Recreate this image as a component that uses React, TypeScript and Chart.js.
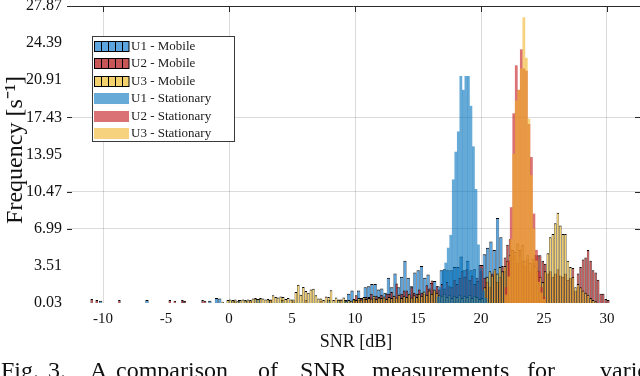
import { useEffect, useRef } from "react";
import { Chart, registerables } from "chart.js";

Chart.register(...registerables);

const FONT = "'Liberation Serif', 'Times New Roman', serif";
const X_MIN = -12.86;
const X_MAX = 32.62;
const Y_MIN = 0.03;
const Y_MAX = 27.87;
const xTicks = [-10, -5, 0, 5, 10, 15, 20, 25, 30];
const xGridValues = [-10, 0, 10, 20, 30];
const yTicks = [0.03, 3.51, 6.99, 10.47, 13.95, 17.43, 20.91, 24.39, 27.87];
const yGridValues = [6.99, 10.47, 17.43];

const seriesLabels = [
  "U1 - Mobile",
  "U2 - Mobile",
  "U3 - Mobile",
  "U1 - Stationary",
  "U2 - Stationary",
  "U3 - Stationary",
];

// ---- U1 mobile histogram (bin width 0.2625 dB) ----
const u1MobileBin = 0.2625;
const u1MobileLowX = [-10.3, -6.4, -3.5, -1.4, -1.1, -0.8, 0.3, 0.9, 1.4, 2.1, 2.5, 3.1, 4.3, 7.9, 8.7, 9.2];
const u1MobileLowY = [0.25, 0.3, 0.2, 0.25, 0.5, 0.45, 0.25, 0.3, 0.25, 0.4, 0.4, 0.3, 0.3, 0.3, 0.3, 0.3];
const u1MobileStart = 9.5;
const u1MobileValues = [
  0.9, 1.2, 0.3, 1.2, 0.5, 1.5, 1.6, 1.8, 1.8, 1.3,
  1.4, 1.0, 2.4, 1.5, 2.8, 1.5, 2.5, 4.0, 2.4, 1.6,
  2.9, 3.1, 3.5, 2.4, 2.7, 1.9, 2.1, 1.6, 3.1, 3.2,
  3.1, 3.1, 3.4, 3.4, 4.4, 3.1, 4.0, 3.1, 3.2, 2.1,
  3.0, 4.6, 5.2, 5.8, 5.0, 8.0, 6.2, 3.0, 0.8,
];

// ---- U2 / U3 mobile histograms (bin width 0.2 dB) ----
const mobileBin = 0.2;
const u2MobileLowX = [-10.9, -10.5, -8.7, -4.7, -4.3, -3.7, -3.5, -2.1, -1.9, 0.5, 1.7, 3.3, 5.1, 6.1, 7.3, 8.9];
const u2MobileLowY = [0.4, 0.3, 0.3, 0.3, 0.25, 0.3, 0.25, 0.3, 0.25, 0.2, 0.25, 0.3, 0.2, 0.3, 0.25, 0.3];
const u2MobileStart = 9.9;
const u2MobileValues = [
  0.3, 0.75, 0.3, 0.5, 0.4,
  0.6, 0.6, 0.9, 0.5, 0.7,
  0.6, 0.8, 0.5, 0.9, 0.9,
  1.06, 0.7, 1.85, 0.8, 0.9,
  1.2, 1.2, 0.8, 1.5, 1.0,
  0.9, 1.3, 1.0, 0.9, 1.7,
  1.4, 2.15, 1.2, 1.6, 1.3,
  1.8, 1.4, 2.0, 1.6, 1.5,
  2.2, 1.8, 2.4, 3.0, 2.5,
  3.2, 2.2, 2.6, 1.8, 2.4,
  3.6, 3.6, 2.4, 2.0, 1.5,
  2.8, 3.0, 2.0, 2.5, 3.5,
  4.3, 5.5, 6.0, 5.0, 4.5,
  3.8, 5.0, 4.0, 3.5, 4.2,
  3.0, 3.8, 4.5, 4.5, 4.5,
  4.0, 3.7, 2.8, 3.0, 2.5,
  2.8, 3.2, 2.6, 2.5, 2.8,
  2.2, 2.4, 3.3, 1.2, 2.8,
  3.4, 4.1, 4.3, 5.0, 4.0,
  3.1, 2.9, 2.2, 0.9, 0.9,
  0.4, 0.3,
];

const u3MobileLowX: number[] = [];
const u3MobileLowY: number[] = [];
const u3MobileStart = -0.9;
const u3MobileValues = [
  0, 0, 0.15, 0, 0.3,
  0.35, 0.3, 0.35, 0.2, 0.3,
  0.35, 0.3, 0.35, 0.3, 0.45,
  0.5, 0.4, 0.5, 0.45, 0.35,
  0.4, 0.35, 0.75, 0.6, 0.55,
  0.65, 0.6, 0.4, 0.5, 0.35,
  0.35, 1.06, 1.75, 0.8, 1.53,
  1.15, 1.0, 1.3, 1.36, 0.75,
  0.45, 0.45, 0.3, 0.65, 0.6,
  1.22, 0.3, 0.55, 0.35, 0.35,
  0.55, 0.2, 0.3, 0.25, 0.4,
  0.3, 0.5, 0.35, 0.6, 0.4,
  0.5, 0.45, 0.7, 0.4, 0.55,
  0.5, 0.65, 0.4, 0.6, 0.5,
  0.7, 0.55, 0.8, 0.5, 0.7,
  0.6, 0.9, 0.55, 0.75, 0.6,
  0.9, 0.7, 1.1, 0.8, 1.2,
  0.9, 1.3, 1.0, 0.8, 0.7,
  0.9, 0.6, 0.8, 0.5, 0.7,
  0.6, 0.8, 0.5, 0.7, 0.6,
  0.8, 0.5, 0.7, 0.6, 0.4,
  0.5, 1.5, 2.5, 3.0, 2.6,
  3.2, 2.8, 3.4, 3.0, 3.5,
  4.0, 4.5, 5.0, 4.8, 5.6,
  4.5, 5.5, 4.0, 4.5, 3.8,
  4.2, 3.5, 3.0, 2.5, 2.0,
  3.0, 4.7, 6.2, 6.5, 7.5,
  8.5, 7.3, 6.5, 6.5, 4.0,
  3.4, 2.5, 1.5, 1.8, 1.5,
  1.2, 1.0, 0.8, 0.5, 0.3,
  0.2,
];

// ---- Stationary histograms (bin width 0.2 dB) ----
const statBin = 0.2;
const u1StatStart = 16.4;
const u1StatValues = [0, 0.6, 1.5, 3.1, 3.8, 5.2, 6.4, 11.6, 14.2, 16.1, 21.3, 20.0, 21.3, 21.3, 18.5, 14.7, 10.7, 5.5, 3.3, 1.2, 0.5, 0];
const u2StatStart = 21.8;
const u2StatValues = [0, 1.5, 4.0, 9.0, 17.8, 22.3, 20.0, 23.8, 22.0, 21.8, 16.8, 13.7, 8.4, 5.0, 3.0, 1.5, 0.6, 0];
const u3StatStart = 21.8;
const u3StatValues = [0, 0.8, 2.5, 6.0, 14.0, 19.0, 20.0, 22.0, 26.8, 23.0, 17.3, 12.0, 7.0, 4.0, 2.0, 1.0, 0.4, 0];

const mobileColors = ["rgba(30,130,210,0.72)", "rgba(180,30,30,0.75)", "rgba(240,190,50,0.7)"];
const stationaryColors = ["rgba(0,114,189,0.6)", "rgba(200,45,50,0.68)", "rgba(240,180,40,0.6)"];

const r4 = (v: number) => Math.round(v * 10000) / 10000;

function binned(lowX: number[], lowY: number[], start: number, bin: number, values: number[]) {
  const snap = (x: number) => r4(start + Math.round((x - start) / bin) * bin);
  const pts = lowX.map((x, i) => ({ x: snap(x), y: lowY[i] }));
  values.forEach((y, i) => pts.push({ x: r4(start + i * bin), y }));
  return pts.filter((p) => p.y > 0);
}

const near = (v: number, arr: number[]) => arr.some((g) => Math.abs(g - v) < 1e-6);

const decorPlugin = {
  id: "decor",
  afterDraw(chart: any) {
    const { ctx, chartArea: a } = chart;
    const xs = chart.scales.x;
    const ys = chart.scales.y;
    ctx.save();
    ctx.strokeStyle = "#2a2a2a";
    ctx.lineWidth = 1;
    ctx.beginPath();
    ctx.moveTo(a.left, a.top + 0.5);
    ctx.lineTo(a.right, a.top + 0.5);
    for (const v of yGridValues) {
      const py = Math.round(ys.getPixelForValue(v)) + 0.5;
      ctx.moveTo(a.left, py);
      ctx.lineTo(a.left + 5, py);
      ctx.moveTo(a.right - 5, py);
      ctx.lineTo(a.right, py);
    }
    for (const v of xGridValues) {
      const px = Math.round(xs.getPixelForValue(v)) + 0.5;
      ctx.moveTo(px, a.top);
      ctx.lineTo(px, a.top + 6);
    }
    ctx.stroke();

    // legend
    const bx = a.left + 25.5;
    const by = a.top + 30.5;
    const bw = 142;
    const bh = 105;
    ctx.fillStyle = "#ffffff";
    ctx.fillRect(bx, by, bw, bh);
    ctx.strokeStyle = "#3a3a3a";
    ctx.lineWidth = 1;
    ctx.strokeRect(bx, by, bw, bh);
    ctx.font = `13px ${FONT}`;
    ctx.textBaseline = "middle";
    ctx.textAlign = "left";
    chart.data.datasets.forEach((ds: any, i: number) => {
      const cy = by + 9.5 + i * 17.5;
      const sx = bx + 1.5;
      const sw = 35;
      const sh = 11;
      const sy = Math.round(cy - sh / 2);
      ctx.fillStyle = ds.backgroundColor;
      ctx.fillRect(sx, sy, sw, sh);
      if (ds.borderWidth && ds.borderWidth.top) {
        ctx.strokeStyle = "#000";
        ctx.lineWidth = 1;
        ctx.beginPath();
        ctx.moveTo(sx, sy + 0.5);
        ctx.lineTo(sx + sw, sy + 0.5);
        ctx.moveTo(sx, sy + sh - 0.5);
        ctx.lineTo(sx + sw, sy + sh - 0.5);
        for (let k = 0; k <= 5; k++) {
          const lx = Math.min(sx + k * 7, sx + sw - 0.5);
          ctx.moveTo(lx + 0.5, sy);
          ctx.lineTo(lx + 0.5, sy + sh);
        }
        ctx.stroke();
      }
      ctx.fillStyle = "#1a1a1a";
      ctx.fillText(ds.label, sx + sw + 2, cy + 0.5);
    });

    // axis titles
    ctx.fillStyle = "#111";
    ctx.font = `18px ${FONT}`;
    ctx.textAlign = "center";
    ctx.textBaseline = "alphabetic";
    ctx.fillText("SNR [dB]", 356, 347);

    ctx.save();
    ctx.translate(22, 150);
    ctx.rotate(-Math.PI / 2);
    ctx.font = `24px ${FONT}`;
    ctx.fillText("Frequency [s\u207B\u00B9]", 0, 0);
    ctx.restore();

    // caption (cut off by the image edge)
    const words = ["Fig.", "3.", "A", "comparison", "of", "SNR", "measurements", "for", "various"];
    const wx = [1, 48, 90, 116, 258, 300, 372, 527, 600];
    ctx.font = `24px ${FONT}`;
    ctx.textAlign = "left";
    words.forEach((w, i) => ctx.fillText(w, wx[i], 378));
    ctx.restore();
  },
};

const hiddenX = {
  type: "linear",
  axis: "x",
  position: "bottom",
  min: X_MIN,
  max: X_MAX,
  offset: false,
  display: false,
  grid: { display: false, offset: false },
};

export default function App() {
  const ref = useRef<HTMLCanvasElement>(null);
  useEffect(() => {
    const canvas = ref.current;
    if (!canvas) return;
    const mobile = [
      binned(u1MobileLowX, u1MobileLowY, u1MobileStart, u1MobileBin, u1MobileValues),
      binned(u2MobileLowX, u2MobileLowY, u2MobileStart, mobileBin, u2MobileValues),
      binned(u3MobileLowX, u3MobileLowY, u3MobileStart, mobileBin, u3MobileValues),
    ];
    const stat = [
      binned([], [], u1StatStart, statBin, u1StatValues),
      binned([], [], u2StatStart, statBin, u2StatValues),
      binned([], [], u3StatStart, statBin, u3StatValues),
    ];
    const mobileAxis = ["xu", "x", "x"];
    const mobileOrder = [6, 5, 4];
    const statOrder = [3, 2, 1];
    const datasets: any[] = [];
    mobile.forEach((data, i) =>
      datasets.push({
        type: "bar",
        label: seriesLabels[i],
        data,
        xAxisID: mobileAxis[i],
        backgroundColor: mobileColors[i],
        borderColor: "#000",
        borderWidth: { top: 1, left: 0.5, right: 0.5, bottom: 0 },
        inflateAmount: 0,
        grouped: false,
        barPercentage: 1,
        categoryPercentage: 1,
        order: mobileOrder[i],
      })
    );
    stat.forEach((data, i) =>
      datasets.push({
        type: "bar",
        label: seriesLabels[3 + i],
        data,
        xAxisID: "xs",
        backgroundColor: stationaryColors[i],
        borderWidth: 0,
        inflateAmount: 0.12,
        grouped: false,
        barPercentage: 1,
        categoryPercentage: 1,
        order: statOrder[i],
      })
    );

    const chart = new Chart(canvas, {
      type: "bar",
      data: { datasets },
      options: {
        animation: false,
        responsive: false,
        devicePixelRatio: 1,
        events: [],
        layout: { padding: { left: 0, right: 0, top: 6, bottom: 0 } },
        plugins: { legend: { display: false }, tooltip: { enabled: false } },
        scales: {
          x: {
            type: "linear",
            min: X_MIN,
            max: X_MAX,
            offset: false,
            afterBuildTicks: (s: any) => {
              s.ticks = xTicks.map((v) => ({ value: v }));
            },
            afterFit: (s: any) => {
              s.height = 73;
              s.paddingLeft = 0;
              s.paddingRight = 0;
            },
            grid: {
              offset: false,
              drawTicks: false,
              color: (c: any) => (near(c.tick?.value, xGridValues) ? "rgba(0,0,0,0.14)" : "rgba(0,0,0,0)"),
            },
            border: { display: false },
            ticks: {
              font: { family: FONT, size: 15 },
              color: "#111",
              padding: 7,
              maxRotation: 0,
              autoSkip: false,
              callback: (v: any) => String(v),
            },
          },
          xu: hiddenX,
          xs: hiddenX,
          y: {
            type: "linear",
            min: Y_MIN,
            max: Y_MAX,
            beginAtZero: false,
            afterBuildTicks: (s: any) => {
              s.ticks = yTicks.map((v) => ({ value: v }));
            },
            afterFit: (s: any) => {
              s.width = 67;
              s.paddingTop = 0;
              s.paddingBottom = 0;
            },
            grid: {
              drawTicks: false,
              color: (c: any) => (near(c.tick?.value, yGridValues) ? "rgba(0,0,0,0.14)" : "rgba(0,0,0,0)"),
            },
            border: { display: false },
            ticks: {
              font: { family: FONT, size: 16 },
              color: "#111",
              padding: 5,
              autoSkip: false,
              callback: (v: any) => Number(v).toFixed(2),
            },
          },
        },
      } as any,
      plugins: [decorPlugin],
    });
    return () => chart.destroy();
  }, []);

  return (
    <div style={{ position: "fixed", left: 0, top: 0, width: 640, height: 376, background: "#fff" }}>
      <canvas ref={ref} width={640} height={376} style={{ display: "block", width: 640, height: 376 }} />
    </div>
  );
}
